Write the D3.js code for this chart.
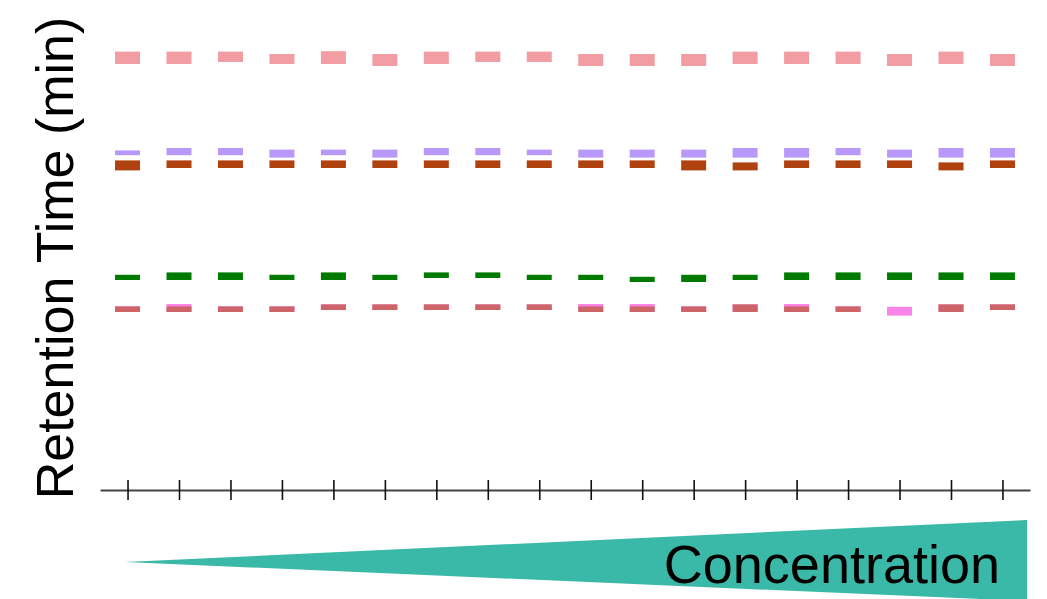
<!DOCTYPE html>
<html><head><meta charset="utf-8">
<script src="https://cdn.jsdelivr.net/npm/d3@7"></script>
<style>body{margin:0;background:#fff}svg{display:block}</style>
</head><body><svg id="c" width="1047" height="599"></svg>
<script>
const samples = d3.range(1, 19);
// Retention-time windows (min): hi = top edge, lo = bottom edge
const pinkHi = [10.96,10.96,10.96,10.90,10.97,10.90,10.96,10.96,10.96,10.90,10.90,10.90,10.96,10.96,10.96,10.90,10.96,10.90];
const pinkLo = [10.65,10.65,10.70,10.65,10.65,10.60,10.65,10.70,10.70,10.60,10.60,10.60,10.65,10.65,10.65,10.60,10.65,10.60];
const lavHi  = [8.49,8.55,8.55,8.51,8.51,8.51,8.55,8.55,8.51,8.51,8.51,8.51,8.55,8.55,8.55,8.51,8.55,8.55];
const lavLo  = [8.37,8.37,8.37,8.31,8.37,8.31,8.37,8.37,8.37,8.31,8.31,8.31,8.31,8.31,8.37,8.31,8.31,8.31];
const brownHi= [8.24,8.24,8.24,8.24,8.24,8.24,8.24,8.24,8.24,8.24,8.24,8.24,8.19,8.24,8.24,8.24,8.19,8.24];
const brownLo= [7.99,8.05,8.05,8.05,8.05,8.05,8.05,8.05,8.05,8.05,8.05,7.99,7.99,8.05,8.05,8.05,7.99,8.05];
const greenHi= [5.38,5.44,5.44,5.38,5.44,5.38,5.44,5.44,5.38,5.38,5.33,5.38,5.38,5.44,5.44,5.44,5.44,5.44];
const greenLo= [5.25,5.25,5.25,5.25,5.25,5.25,5.30,5.30,5.25,5.25,5.20,5.20,5.25,5.25,5.25,5.25,5.25,5.25];
const magHi  = [4.59,4.65,4.59,4.59,4.64,4.64,4.64,4.64,4.64,4.65,4.65,4.59,4.64,4.65,4.59,4.58,4.64,4.64];
const magLo  = [4.45,4.45,4.45,4.45,4.50,4.50,4.50,4.50,4.50,4.45,4.45,4.45,4.45,4.45,4.45,4.36,4.45,4.50];
const redHi  = [4.59,4.59,4.59,4.59,4.64,4.64,4.64,4.64,4.64,4.59,4.59,4.59,4.64,4.59,4.59,null,4.64,4.64];
const redLo  = [4.45,4.45,4.45,4.45,4.50,4.50,4.50,4.50,4.50,4.45,4.45,4.45,4.45,4.45,4.45,null,4.45,4.50];

const series = [
  {hi: pinkHi, lo: pinkLo, color: "#f29ca3"},
  {hi: lavHi, lo: lavLo, color: "#b899fa"},
  {hi: brownHi, lo: brownLo, color: "#b0420f"},
  {hi: greenHi, lo: greenLo, color: "#007a00"},
  {hi: magHi, lo: magLo, color: "#fb84e8"},
  {hi: redHi, lo: redLo, color: "#cc6468"}
];

const svg = d3.select("#c");
const x = d3.scalePoint().domain(samples).range([100, 1030]).padding(0.535);
const y = d3.scaleLinear().domain([0, 12]).range([490, 10]);
const bw = 25;

series.forEach(s => {
  svg.append("g").selectAll("rect")
    .data(samples.map((d, i) => ({d, hi: s.hi[i], lo: s.lo[i]})).filter(e => e.hi != null))
    .join("rect")
    .attr("x", e => x(e.d) - bw / 2)
    .attr("width", bw)
    .attr("y", e => y(e.hi))
    .attr("height", e => y(e.lo) - y(e.hi))
    .attr("fill", s.color);
});

const ax = svg.append("g").attr("transform", "translate(0,490)")
  .call(d3.axisBottom(x).tickSizeOuter(0).tickFormat(""));
ax.select(".domain").attr("stroke", "#444").attr("stroke-width", 2.2);
ax.selectAll(".tick line").attr("y1", -10).attr("y2", 10).attr("stroke", "#111").attr("stroke-width", 1.6);

svg.append("text")
  .attr("transform", "translate(73,258) rotate(-90)")
  .attr("text-anchor", "middle")
  .attr("font-family", "Liberation Sans, Arial, sans-serif")
  .attr("font-size", 52)
  .attr("fill", "#000")
  .text("Retention Time (min)");

svg.append("polygon")
  .attr("points", "125,562 1027,520 1027,601")
  .attr("fill", "#3bb9a8");

svg.append("text")
  .attr("x", 1000).attr("y", 583)
  .attr("text-anchor", "end")
  .attr("font-family", "Liberation Sans, Arial, sans-serif")
  .attr("font-size", 54)
  .attr("fill", "#000")
  .text("Concentration");
</script></body></html>
